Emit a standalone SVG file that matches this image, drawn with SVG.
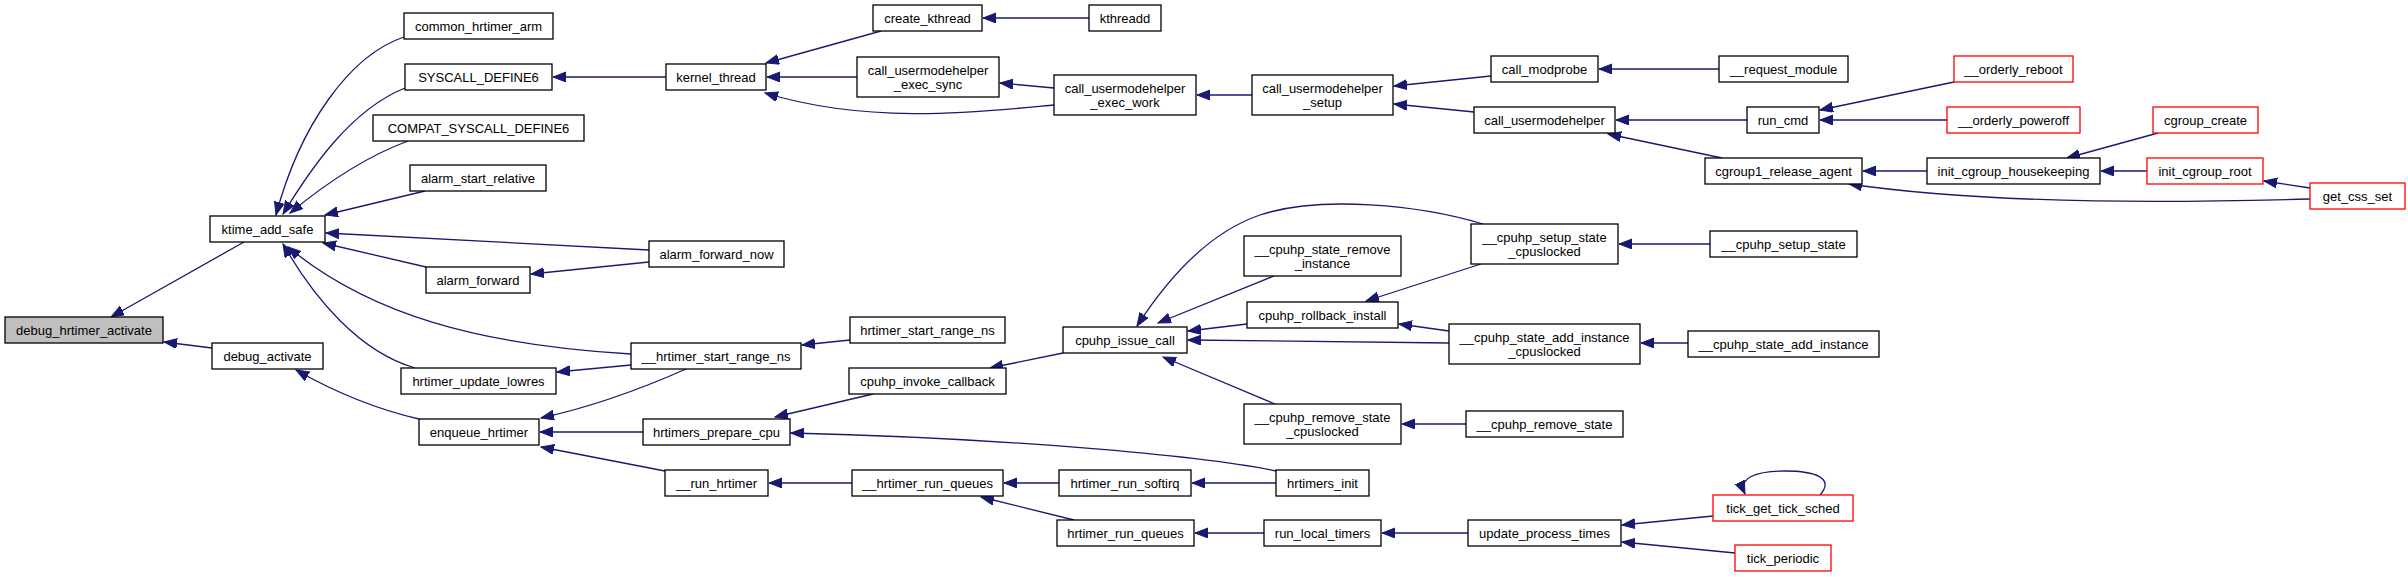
<svg xmlns="http://www.w3.org/2000/svg" width="2408" height="577" viewBox="0 0 2408 577">
<style>
.n rect{fill:#fff;stroke:#000;stroke-width:1.3}
.n.r rect{stroke:#f00}
.n.root rect{fill:#bfbfbf}
.n text{font-family:"Liberation Sans",Arial,sans-serif;font-size:13px;text-anchor:middle;fill:#000}
#edges path{fill:none;stroke:#191970;stroke-width:1.3;marker-end:url(#ah)}
</style>
<defs>
<marker id="ah" markerUnits="userSpaceOnUse" markerWidth="14" markerHeight="11" refX="13" refY="5" orient="auto">
<path d="M0,0 L13,5 L0,10 z" fill="#191970" stroke="#191970" stroke-width="1"/>
</marker>
</defs>
<rect width="2408" height="577" fill="#fff"/>
<g id="edges">
<path d="M244,242 L111,317"/>
<path d="M212,348 L164,342"/>
<path d="M419,419 C380,410 340,395 296,370"/>
<path d="M404,37 C350,55 300,125 276,215"/>
<path d="M405,88 C350,110 310,170 283,214"/>
<path d="M408,141 C370,155 330,180 290,213"/>
<path d="M425,191 L325,215"/>
<path d="M649,250 L326,233"/>
<path d="M426,267 L323,243"/>
<path d="M415,368 C360,352 315,300 283,244"/>
<path d="M631,354 C480,345 370,315 288,247"/>
<path d="M649,262 L531,274"/>
<path d="M666,77 L553,77"/>
<path d="M881,31 L766,63"/>
<path d="M857,77 L767,77"/>
<path d="M1054,105 C980,112 870,125 765,93"/>
<path d="M1089,18 L983,18"/>
<path d="M1054,88 L1000,83"/>
<path d="M1252,95 L1197,95"/>
<path d="M1491,76 L1394,86"/>
<path d="M1474,112 L1394,104"/>
<path d="M1719,69 L1599,69"/>
<path d="M1747,120 L1616,120"/>
<path d="M1722,158 L1608,134"/>
<path d="M1954,82 L1820,110"/>
<path d="M1947,120 L1820,120"/>
<path d="M1927,171 L1863,171"/>
<path d="M2310,199 C2200,202 2000,206 1849,184"/>
<path d="M2158,133 L2067,158"/>
<path d="M2147,171 L2101,171"/>
<path d="M2310,188 L2264,181"/>
<path d="M850,340 L802,345"/>
<path d="M631,365 L557,372"/>
<path d="M686,369 C650,385 600,405 541,418"/>
<path d="M643,432 L540,432"/>
<path d="M665,471 L541,447"/>
<path d="M873,394 L775,417"/>
<path d="M1276,471 C1200,455 1000,438 791,433"/>
<path d="M1063,353 L990,368"/>
<path d="M852,483 L769,483"/>
<path d="M1059,483 L1004,483"/>
<path d="M1074,520 L981,497"/>
<path d="M1276,483 L1192,483"/>
<path d="M1264,533 L1195,533"/>
<path d="M1468,533 L1382,533"/>
<path d="M1713,516 L1622,525"/>
<path d="M1735,553 L1622,542"/>
<path d="M1820,495 C1835,478 1815,471 1785,471 C1755,471 1738,478 1745,494"/>
<path d="M1483,224 C1420,205 1320,195 1260,215 C1210,232 1170,275 1137,326"/>
<path d="M1274,276 L1158,323"/>
<path d="M1247,324 L1188,331"/>
<path d="M1449,343 L1188,340"/>
<path d="M1275,404 L1163,357"/>
<path d="M1481,264 L1366,301"/>
<path d="M1449,331 L1399,324"/>
<path d="M1710,244 L1619,244"/>
<path d="M1688,343 L1641,343"/>
<path d="M1466,424 L1402,424"/>
</g>
<g id="n1" class="n root"><rect x="5" y="317" width="158" height="26"/><text x="84" y="334.5">debug_hrtimer_activate</text></g>
<g id="n2" class="n"><rect x="210" y="216" width="115" height="26"/><text x="267.5" y="233.5">ktime_add_safe</text></g>
<g id="n3" class="n"><rect x="212" y="343" width="111" height="26"/><text x="267.5" y="360.5">debug_activate</text></g>
<g id="n4" class="n"><rect x="404" y="13" width="149" height="26"/><text x="478.5" y="30.5">common_hrtimer_arm</text></g>
<g id="n5" class="n"><rect x="405" y="64" width="147" height="26"/><text x="478.5" y="81.5">SYSCALL_DEFINE6</text></g>
<g id="n6" class="n"><rect x="373" y="115" width="211" height="26"/><text x="478.5" y="132.5">COMPAT_SYSCALL_DEFINE6</text></g>
<g id="n7" class="n"><rect x="410" y="165" width="136" height="26"/><text x="478" y="182.5">alarm_start_relative</text></g>
<g id="n8" class="n"><rect x="426" y="267" width="104" height="26"/><text x="478" y="284.5">alarm_forward</text></g>
<g id="n9" class="n"><rect x="401" y="368" width="155" height="26"/><text x="478.5" y="385.5">hrtimer_update_lowres</text></g>
<g id="n10" class="n"><rect x="419" y="419" width="120" height="26"/><text x="479" y="436.5">enqueue_hrtimer</text></g>
<g id="n11" class="n"><rect x="666" y="64" width="100" height="26"/><text x="716" y="81.5">kernel_thread</text></g>
<g id="n12" class="n"><rect x="873" y="5" width="109" height="26"/><text x="927.5" y="22.5">create_kthread</text></g>
<g id="n13" class="n"><rect x="1089" y="5" width="72" height="26"/><text x="1125" y="22.5">kthreadd</text></g>
<g id="n14" class="n"><rect x="857" y="57" width="142" height="40"/><text x="928" y="74.5">call_usermodehelper</text><text x="928" y="88.5">_exec_sync</text></g>
<g id="n15" class="n"><rect x="1054" y="75" width="142" height="40"/><text x="1125" y="92.5">call_usermodehelper</text><text x="1125" y="106.5">_exec_work</text></g>
<g id="n16" class="n"><rect x="649" y="241" width="135" height="26"/><text x="716.5" y="258.5">alarm_forward_now</text></g>
<g id="n17" class="n"><rect x="850" y="317" width="155" height="26"/><text x="927.5" y="334.5">hrtimer_start_range_ns</text></g>
<g id="n18" class="n"><rect x="631" y="343" width="170" height="26"/><text x="716" y="360.5">__hrtimer_start_range_ns</text></g>
<g id="n19" class="n"><rect x="849" y="368" width="157" height="26"/><text x="927.5" y="385.5">cpuhp_invoke_callback</text></g>
<g id="n20" class="n"><rect x="1063" y="327" width="124" height="26"/><text x="1125" y="344.5">cpuhp_issue_call</text></g>
<g id="n21" class="n"><rect x="643" y="419" width="147" height="26"/><text x="716.5" y="436.5">hrtimers_prepare_cpu</text></g>
<g id="n22" class="n"><rect x="665" y="470" width="103" height="26"/><text x="716.5" y="487.5">__run_hrtimer</text></g>
<g id="n23" class="n"><rect x="852" y="470" width="151" height="26"/><text x="927.5" y="487.5">__hrtimer_run_queues</text></g>
<g id="n24" class="n"><rect x="1059" y="470" width="132" height="26"/><text x="1125" y="487.5">hrtimer_run_softirq</text></g>
<g id="n25" class="n"><rect x="1057" y="520" width="137" height="26"/><text x="1125.5" y="537.5">hrtimer_run_queues</text></g>
<g id="n26" class="n"><rect x="1252" y="75" width="141" height="40"/><text x="1322.5" y="92.5">call_usermodehelper</text><text x="1322.5" y="106.5">_setup</text></g>
<g id="n27" class="n"><rect x="1491" y="56" width="107" height="26"/><text x="1544.5" y="73.5">call_modprobe</text></g>
<g id="n28" class="n"><rect x="1719" y="56" width="129" height="26"/><text x="1783.5" y="73.5">__request_module</text></g>
<g id="n29" class="n"><rect x="1474" y="107" width="141" height="26"/><text x="1544.5" y="124.5">call_usermodehelper</text></g>
<g id="n30" class="n"><rect x="1747" y="107" width="72" height="26"/><text x="1783" y="124.5">run_cmd</text></g>
<g id="n31" class="n"><rect x="1705" y="158" width="157" height="26"/><text x="1783.5" y="175.5">cgroup1_release_agent</text></g>
<g id="n32" class="n"><rect x="1471" y="224" width="147" height="40"/><text x="1544.5" y="241.5">__cpuhp_setup_state</text><text x="1544.5" y="255.5">_cpuslocked</text></g>
<g id="n33" class="n"><rect x="1244" y="236" width="157" height="40"/><text x="1322.5" y="253.5">__cpuhp_state_remove</text><text x="1322.5" y="267.5">_instance</text></g>
<g id="n34" class="n"><rect x="1710" y="231" width="147" height="26"/><text x="1783.5" y="248.5">__cpuhp_setup_state</text></g>
<g id="n35" class="n"><rect x="1247" y="302" width="151" height="26"/><text x="1322.5" y="319.5">cpuhp_rollback_install</text></g>
<g id="n36" class="n"><rect x="1449" y="324" width="191" height="40"/><text x="1544.5" y="341.5">__cpuhp_state_add_instance</text><text x="1544.5" y="355.5">_cpuslocked</text></g>
<g id="n37" class="n"><rect x="1688" y="331" width="191" height="26"/><text x="1783.5" y="348.5">__cpuhp_state_add_instance</text></g>
<g id="n38" class="n"><rect x="1244" y="404" width="157" height="40"/><text x="1322.5" y="421.5">__cpuhp_remove_state</text><text x="1322.5" y="435.5">_cpuslocked</text></g>
<g id="n39" class="n"><rect x="1466" y="411" width="157" height="26"/><text x="1544.5" y="428.5">__cpuhp_remove_state</text></g>
<g id="n40" class="n"><rect x="1276" y="470" width="93" height="26"/><text x="1322.5" y="487.5">hrtimers_init</text></g>
<g id="n41" class="n"><rect x="1264" y="520" width="117" height="26"/><text x="1322.5" y="537.5">run_local_timers</text></g>
<g id="n42" class="n"><rect x="1468" y="520" width="153" height="26"/><text x="1544.5" y="537.5">update_process_times</text></g>
<g id="n43" class="n r"><rect x="1713" y="495" width="140" height="26"/><text x="1783" y="512.5">tick_get_tick_sched</text></g>
<g id="n44" class="n r"><rect x="1735" y="545" width="96" height="26"/><text x="1783" y="562.5">tick_periodic</text></g>
<g id="n45" class="n r"><rect x="1954" y="56" width="119" height="26"/><text x="2013.5" y="73.5">__orderly_reboot</text></g>
<g id="n46" class="n r"><rect x="1947" y="107" width="133" height="26"/><text x="2013.5" y="124.5">__orderly_poweroff</text></g>
<g id="n47" class="n r"><rect x="2153" y="107" width="105" height="26"/><text x="2205.5" y="124.5">cgroup_create</text></g>
<g id="n48" class="n"><rect x="1927" y="158" width="173" height="26"/><text x="2013.5" y="175.5">init_cgroup_housekeeping</text></g>
<g id="n49" class="n r"><rect x="2147" y="158" width="116" height="26"/><text x="2205" y="175.5">init_cgroup_root</text></g>
<g id="n50" class="n r"><rect x="2310" y="183" width="95" height="26"/><text x="2357.5" y="200.5">get_css_set</text></g>
</svg>
